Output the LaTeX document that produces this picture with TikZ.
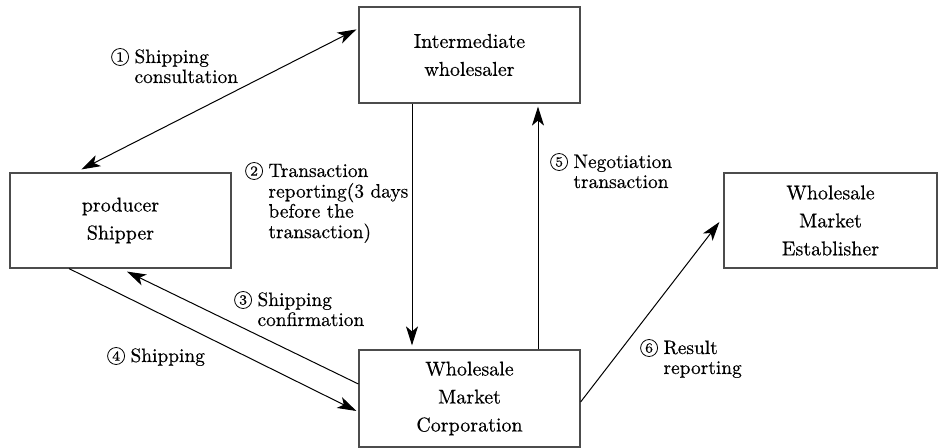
\documentclass[tikz,border=0pt]{standalone}
\usepackage{fontspec}
\setmainfont{Latin Modern Roman}[FakeBold=0.4]
\usetikzlibrary{arrows.meta}

\tikzset{
  >={Stealth[length=9.5pt,width=6pt,inset=2.5pt]},
  box/.style={draw=black!70, line width=0.6pt, align=center, inner sep=0pt,
    font=\fontsize{10}{14}\selectfont},
  lbl/.style={anchor=base west, inner sep=0pt, font=\fontsize{9.7}{10}\selectfont},
  stepnum/.style={circle, draw, line width=0.4pt, inner sep=0pt, minimum size=8.5pt,
    anchor=east, font=\fontsize{7}{7}\selectfont},
}

\begin{document}
\begin{tikzpicture}[x=0.5pt,y=-0.5pt,line width=0.5pt]
\useasboundingbox (0,0) rectangle (939,448);

\node (inter) at (469.5,55) [box, minimum width=110.5pt, minimum height=48pt]
  {Intermediate\\wholesaler};
\node (prod) at (120.5,220.5) [box, minimum width=110.5pt, minimum height=47.5pt]
  {producer\\Shipper};
\node (corp) at (469.5,398.5) [box, minimum width=110.5pt, minimum height=48.5pt]
  {Wholesale\\Market\\Corporation};
\node (estab) at (830.5,220.5) [box, minimum width=106.5pt, minimum height=47.5pt]
  {Wholesale\\Market\\Establisher};

\draw[<->] ([xshift=36pt,yshift=1.5pt]prod.north west) --
  ([xshift=-1pt,yshift=-11.5pt]inter.north west);
\draw[->] ([xshift=-28.75pt]inter.south) -- ([xshift=-28.75pt,yshift=2pt]corp.north);
\draw[->] ([xshift=34.25pt]corp.north) -- ([xshift=34.25pt,yshift=-1.5pt]inter.south);
\draw[->] ([yshift=7.25pt]corp.west) -- ([xshift=3.25pt,yshift=-1.5pt]prod.south);
\draw[->] ([xshift=-25.75pt]prod.south) -- ([xshift=-1pt,yshift=-6.25pt]corp.west);
\draw[->] ([yshift=-1.75pt]corp.east) -- ([xshift=-2pt,yshift=-0.75pt]estab.west);

\node (lbconsult) at (134,63) [lbl]
  {\begin{tabular}[t]{@{}l@{}}Shipping\\consultation\end{tabular}};
\node (lbreport) at (268,177) [lbl]
  {\begin{tabular}[t]{@{}l@{}}Transaction\\reporting(3 days\\before the\\transaction)\end{tabular}};
\node (lbconfirm) at (257,306) [lbl]
  {\begin{tabular}[t]{@{}l@{}}Shipping\\confirmation\end{tabular}};
\node (lbship) at (130,362) [lbl] {Shipping};
\node (lbnego) at (573,168) [lbl]
  {\begin{tabular}[t]{@{}l@{}}Negotiation\\transaction\end{tabular}};
\node (lbresult) at (663,354) [lbl]
  {\begin{tabular}[t]{@{}l@{}}Result\\reporting\end{tabular}};

% circled step numbers in front of the first line of each label
\foreach \lb/\k in {lbconsult/1, lbreport/2, lbconfirm/3, lbship/4, lbnego/5, lbresult/6}
  \node[stepnum] (num\k) at ([xshift=-2.5pt,yshift=3pt]\lb.base west) {\k};
\end{tikzpicture}
\end{document}
